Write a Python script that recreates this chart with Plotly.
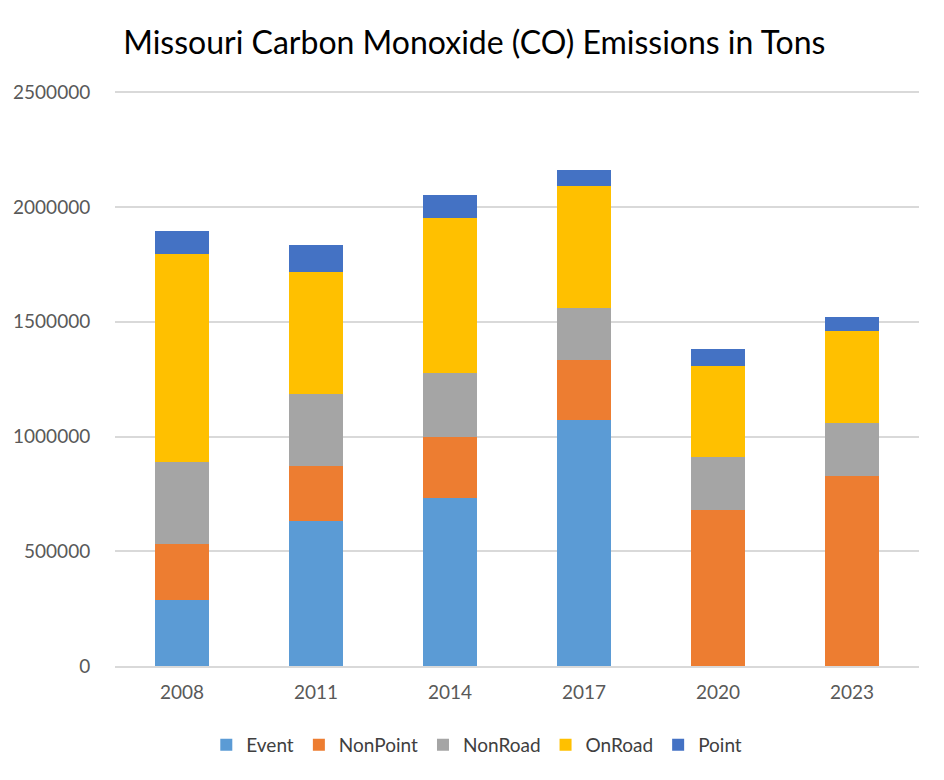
import plotly.graph_objects as go

# data (tons)
years = ["2008", "2011", "2014", "2017", "2020", "2023"]
event = [289000, 630000, 733000, 1073000, 0, 0]
nonpoint = [242000, 242000, 264000, 260000, 682000, 828000]
nonroad = [356000, 314000, 278000, 228000, 227000, 231000]
onroad = [909000, 529000, 676000, 531000, 397000, 400000]
point = [98000, 118000, 101000, 69000, 76000, 61000]

series = [
    ("Event", event, "#5b9bd5"),
    ("NonPoint", nonpoint, "#ed7d31"),
    ("NonRoad", nonroad, "#a5a5a5"),
    ("OnRoad", onroad, "#ffc000"),
    ("Point", point, "#4472c4"),
]

fig = go.Figure()
for name, vals, col in series:
    fig.add_trace(go.Bar(x=years, y=vals, name=name, marker_color=col,
                         marker_line_width=0))

# page has an 8px body margin, so margins are shifted by that much
fig.update_layout(
    barmode="stack",
    bargap=0.6,
    width=944, height=780,
    margin=dict(l=107, r=33, t=83, b=122, autoexpand=False),
    paper_bgcolor="white", plot_bgcolor="white",
    font=dict(family="Lato, Open Sans, sans-serif", size=19, color="#595959"),
    title=dict(text="Missouri Carbon Monoxide (CO) Emissions in Tons",
               x=0.494, xanchor="center", y=0.955, yanchor="middle",
               font=dict(size=32, color="#000000")),
    legend=dict(orientation="h", x=0.45, xanchor="center", y=-0.137,
                yanchor="middle", font=dict(size=19, color="#404040"),
                traceorder="normal", itemwidth=30),
)
fig.update_yaxes(range=[0, 2506000], dtick=500000, tickformat="d",
                 showgrid=True, gridcolor="#d9d9d9", gridwidth=1.5,
                 zeroline=False, showline=False, automargin=False,
                 ticks="outside", ticklen=20, tickcolor="rgba(0,0,0,0)")
fig.update_xaxes(showline=True, linecolor="#d9d9d9", linewidth=1.5,
                 automargin=False,
                 ticks="outside", ticklen=8, tickcolor="rgba(0,0,0,0)")

fig.write_html("out.html")
